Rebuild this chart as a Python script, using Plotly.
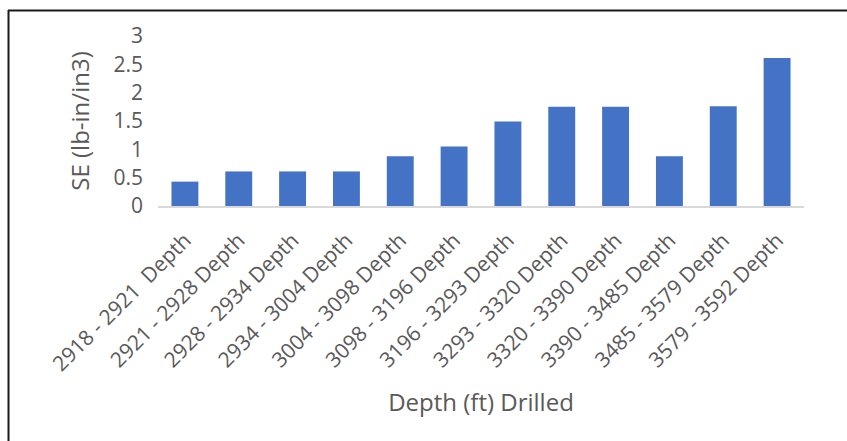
import plotly.graph_objects as go

# Specific energy by drilled depth interval
intervals = [
    "2918 - 2921  Depth", "2921 - 2928 Depth", "2928 - 2934 Depth",
    "2934 - 3004 Depth", "3004 - 3098 Depth", "3098 - 3196 Depth",
    "3196 - 3293 Depth", "3293 - 3320 Depth", "3320 - 3390 Depth",
    "3390 - 3485 Depth", "3485 - 3579 Depth", "3579 - 3592 Depth",
]
se_values = [0.43, 0.61, 0.61, 0.61, 0.88, 1.05, 1.49, 1.75, 1.75, 0.88, 1.76, 2.61]
y_ticks = [0, 0.5, 1, 1.5, 2, 2.5, 3]

W, H = 847, 441
L, R, T, B = 158, 43, 36, 235
plot_w = W - L - R
plot_h = H - T - B

FONT = "Open Sans"
GREY = "#595959"

fig = go.Figure(
    go.Bar(
        x=intervals,
        y=se_values,
        marker=dict(color="#4472C4", line=dict(width=0)),
        width=0.5,
    )
)

# frame lines along the top and left edges of the page
def px_to_paper_x(px):
    return (px - L) / plot_w

def px_to_paper_y(py):
    return (H - B - py) / plot_h

fig.add_shape(type="line", xref="paper", yref="paper",
              x0=px_to_paper_x(8), x1=px_to_paper_x(W + 2),
              y0=px_to_paper_y(10.5), y1=px_to_paper_y(10.5),
              line=dict(color="#1a1a1a", width=2))
fig.add_shape(type="line", xref="paper", yref="paper",
              x0=px_to_paper_x(8.5), x1=px_to_paper_x(8.5),
              y0=px_to_paper_y(10), y1=px_to_paper_y(H + 2),
              line=dict(color="#1a1a1a", width=2))

fig.update_layout(
    width=W, height=H,
    margin=dict(l=L, r=R, t=T, b=B, pad=0),
    paper_bgcolor="white",
    plot_bgcolor="white",
    showlegend=False,
    font=dict(family=FONT, color=GREY, size=21),
    bargap=0.5,
)

fig.update_xaxes(
    tickangle=-45,
    tickfont=dict(family=FONT, size=21, color=GREY),
    showline=True, linecolor="#D9D9D9", linewidth=1.5,
    showgrid=False, ticks="",
    ticklabelstandoff=12,
    title=dict(text="Depth (ft) Drilled", font=dict(family=FONT, size=24, color=GREY), standoff=18),
)

fig.update_yaxes(
    range=[0, 3],
    tickvals=y_ticks,
    ticktext=[f"{v:g}" for v in y_ticks],
    tickfont=dict(family=FONT, size=21, color=GREY),
    showline=False, showgrid=False, zeroline=False, ticks="",
    ticklabelstandoff=14,
    title=dict(text="SE (lb-in/in3)", font=dict(family=FONT, size=24, color=GREY), standoff=17),
)

fig.write_html("out.html")
